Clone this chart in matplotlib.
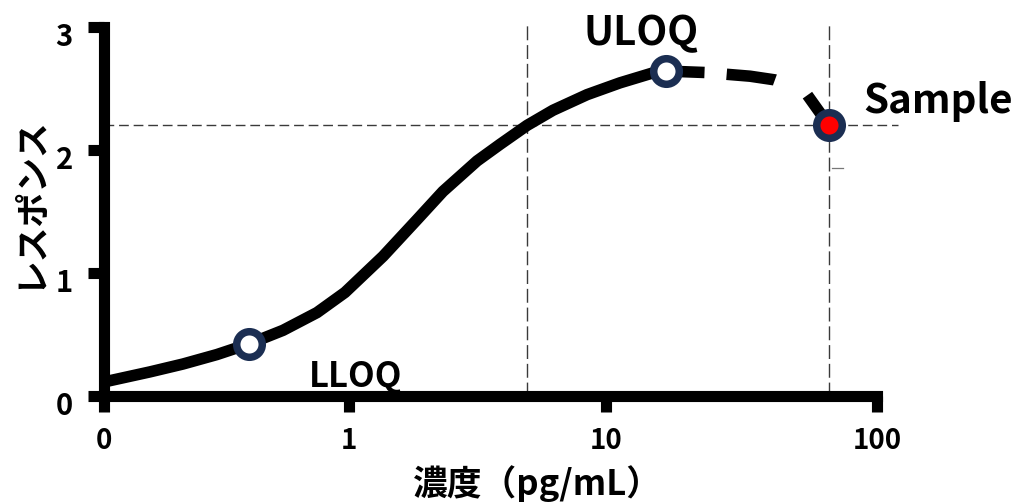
import numpy as np
import matplotlib
matplotlib.use("Agg")
import matplotlib.pyplot as plt
from matplotlib.ticker import FixedLocator, NullLocator
from matplotlib.transforms import ScaledTranslation

plt.rcParams['font.family'] = ['Noto Sans CJK JP', 'DejaVu Sans']
plt.rcParams['lines.scale_dashes'] = False

# ---------------- data ----------------
curve_x = [0.1, 0.154, 0.210, 0.289, 0.391, 0.538, 0.740, 0.963, 1.357, 1.840, 2.32, 3.15,
           3.87, 4.93, 6.22, 8.44, 11.26, 14.9, 16.6]
curve_y = [0.114, 0.196, 0.260, 0.337, 0.424, 0.534, 0.678, 0.842, 1.136, 1.434, 1.663, 1.911,
           2.046, 2.200, 2.323, 2.450, 2.546, 2.627, 2.642]
ext_x = [16.6, 23.2, 34.0, 42.0, 48.5, 55.2, 66.5]
ext_y = [2.642, 2.63, 2.60, 2.57, 2.52, 2.45, 2.20]
lloq = (0.391, 0.424)
uloq = (16.6, 2.642)
sample = (66.5, 2.20)
cross_x = 4.93
x_ticks = [0.1, 1, 10, 100]
x_ticklabels = ['0', '1', '10', '100']
y_ticks = [0, 1, 2, 3]
y_ticklabels = ['0', '1', '2', '3']
x_label = '濃度（pg/mL）'
y_label = 'レスポンス'

# --------------- axis scale (uneven decades as drawn) ---------------
SEG = (245.0, 257.0, 271.0)

def fwd(x):
    lx = np.log10(np.maximum(np.asarray(x, dtype=float), 1e-12))
    return np.where(lx < 0, (lx + 1) * SEG[0],
                    np.where(lx < 1, SEG[0] + lx * SEG[1],
                             SEG[0] + SEG[1] + (lx - 1) * SEG[2]))

def inv(p):
    p = np.asarray(p, dtype=float)
    lx = np.where(p < SEG[0], p / SEG[0] - 1,
                  np.where(p < SEG[0] + SEG[1], (p - SEG[0]) / SEG[1],
                           1 + (p - SEG[0] - SEG[1]) / SEG[2]))
    return 10 ** lx

fig = plt.figure(figsize=(10.21, 5.04), dpi=100)
ax = fig.add_axes([104 / 1021, 1 - 396 / 504, 773 / 1021, 369 / 504])
ax.set_xscale('function', functions=(fwd, inv))
ax.set_xlim(0.1, 100)
ax.set_ylim(0, 3)

navy = '#1b2e52'
gray = '#3a3a3a'

# reference dashed lines
ax.plot([0.1, 119.5], [sample[1], sample[1]], color=gray, lw=1.0,
        dashes=(7, 3.5), clip_on=False, zorder=1)
ax.plot([cross_x, cross_x], [0, 3.03], color=gray, lw=1.0,
        dashes=(10, 3.5), clip_on=False, zorder=1)
ax.plot([sample[0], sample[0]], [0, 3.03], color=gray, lw=1.0,
        dashes=(10, 3.5), clip_on=False, zorder=1)
ax.plot([68.2, 75], [1.85, 1.85], color='#777777', lw=0.9, clip_on=False, zorder=1)

# calibration curve
ax.plot(curve_x, curve_y, color='black', lw=8.3, solid_capstyle='butt',
        solid_joinstyle='round', zorder=3, clip_on=False)
ax.plot(ext_x, ext_y, color='black', lw=8.3, dashes=(28, 16, 35, 26, 45, 8),
        dash_capstyle='butt', zorder=3, clip_on=False)

# markers
ms, mew = 18.4, 5.4
ax.plot([lloq[0]], [lloq[1]], 'o', ms=ms, mew=mew, mec=navy, mfc='white', zorder=5, clip_on=False)
ax.plot([uloq[0]], [uloq[1]], 'o', ms=ms, mew=mew, mec=navy, mfc='white', zorder=5, clip_on=False)
ax.plot([sample[0]], [sample[1]], 'o', ms=ms, mew=mew, mec=navy, mfc='#ff0000', zorder=5, clip_on=False)

# annotations
ax.text(1.065, 0.073, 'LLOQ', fontsize=25, fontweight='bold', ha='center', va='baseline', zorder=4)
ax.text(13.5, 2.85, 'ULOQ', fontsize=29, fontweight='bold', ha='center', va='baseline', zorder=4)
ax.text(88.7, 2.30, 'Sample', fontsize=29, fontweight='bold', ha='left', va='baseline',
        zorder=4, clip_on=False)

# spines and ticks
for s in ['top', 'right']:
    ax.spines[s].set_visible(False)
for s in ['left', 'bottom']:
    ax.spines[s].set_linewidth(8)
    ax.spines[s].set_color('black')
    ax.spines[s].set_capstyle('projecting')

ax.xaxis.set_major_locator(FixedLocator(x_ticks))
ax.xaxis.set_minor_locator(NullLocator())
ax.set_xticklabels(x_ticklabels)
ax.set_yticks(y_ticks)
ax.set_yticklabels(y_ticklabels)
ax.tick_params(axis='both', which='major', direction='out', length=11.5, width=8, color='black')
ax.tick_params(axis='x', labelsize=20, pad=11)
ax.tick_params(axis='y', labelsize=21, pad=11)
for lab in ax.get_xticklabels() + ax.get_yticklabels():
    lab.set_fontweight('bold')
for lab in ax.get_yticklabels():
    lab.set_transform(lab.get_transform() + ScaledTranslation(0, -7 / 100, fig.dpi_scale_trans))

ax.set_xlabel(x_label, fontsize=25, fontweight='bold', va='center')
ax.xaxis.set_label_coords(0.561, -0.236)
ax.set_ylabel(y_label, fontsize=25, fontweight='bold', va='center')
ax.yaxis.set_label_coords(-0.097, 0.526)

fig.savefig('out.png', dpi=100)
